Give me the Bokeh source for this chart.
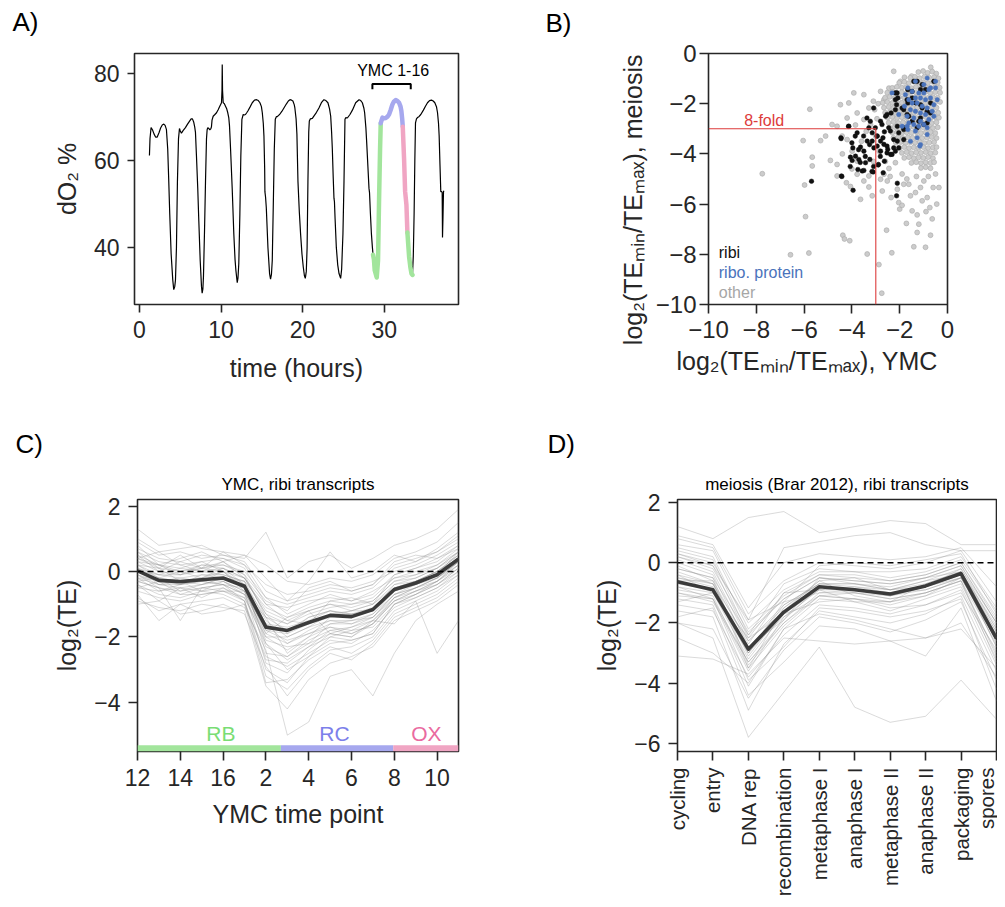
import math
import numpy as np
from bokeh.plotting import figure
from bokeh.models import Label, Span, FixedTicker, Title
from bokeh.layouts import row, column
from bokeh.embed import file_html
from bokeh.resources import INLINE

FONT = "Liberation Sans"
INK = "#262626"

# ---------------- Panel A data: dissolved O2 trace ----------------
do2_trace = [
    (1.23, 61.1), (1.3, 65.0), (1.43, 67.5), (1.6, 67.0), (1.8, 66.0), (2.0, 65.3), (2.17, 65.3),
    (2.4, 66.3), (2.6, 67.4), (2.8, 68.1), (2.99, 68.3), (3.15, 68.0), (3.31, 67.1), (3.47, 62.6),
    (3.6, 55.1), (3.72, 47.6), (3.89, 38.5), (4.09, 32.5), (4.21, 30.3), (4.33, 31.0), (4.42, 32.5),
    (4.54, 40.0), (4.66, 55.1), (4.79, 64.9), (4.91, 67.3), (5.0, 66.8), (5.15, 66.2), (5.35, 66.8),
    (5.64, 67.5), (5.9, 68.3), (6.15, 69.0), (6.34, 69.5), (6.5, 69.5), (6.65, 68.8), (6.78, 67.6),
    (6.87, 66.4), (6.99, 61.1), (7.15, 53.6), (7.28, 46.1), (7.45, 37.0), (7.61, 31.0), (7.69, 29.5),
    (7.78, 30.5), (7.85, 33.3), (7.98, 43.8), (8.1, 55.1), (8.22, 64.9), (8.3, 67.0), (8.38, 67.5),
    (8.5, 67.3), (8.63, 67.0), (8.75, 67.2), (8.83, 67.7), (8.9, 69.2), (9.04, 70.1), (9.25, 70.5),
    (9.45, 70.9), (9.65, 71.6), (9.85, 72.4), (10.06, 73.2), (10.12, 76.0), (10.15, 82.0), (10.19, 76.0),
    (10.27, 73.2), (10.4, 73.0), (10.55, 72.4), (10.7, 71.8), (10.83, 70.9), (10.95, 69.8), (11.04, 67.9),
    (11.17, 62.6), (11.37, 53.6), (11.57, 43.1), (11.72, 37.2), (11.82, 34.8), (11.99, 31.9), (12.08, 33.0),
    (12.18, 36.3), (12.31, 47.6), (12.43, 61.1), (12.56, 69.4), (12.72, 70.5), (12.85, 70.4), (13.0, 70.5),
    (13.15, 70.9), (13.29, 71.3), (13.55, 72.2), (13.83, 73.2), (14.1, 73.8), (14.36, 73.9), (14.57, 73.7),
    (14.77, 73.2), (14.95, 72.3), (15.06, 70.9), (15.18, 68.5), (15.26, 65.6), (15.35, 58.0), (15.38, 52.8),
    (15.46, 51.5), (15.55, 49.1), (15.75, 40.0), (15.95, 34.0), (16.07, 32.7), (16.18, 33.8), (16.28, 37.0),
    (16.4, 49.1), (16.53, 62.6), (16.65, 69.4), (16.78, 70.0), (16.9, 70.0), (17.05, 70.3), (17.18, 70.5),
    (17.45, 71.2), (17.71, 72.0), (18.0, 72.9), (18.25, 73.6), (18.45, 73.9), (18.65, 73.8), (18.81, 73.6),
    (18.98, 72.7), (19.05, 72.0), (19.2, 69.5), (19.3, 66.0), (19.43, 55.1), (19.6, 48.0), (19.75, 43.1),
    (19.92, 38.5), (20.08, 35.5), (20.22, 33.5), (20.33, 32.9), (20.45, 34.5), (20.55, 40.0), (20.65, 55.0),
    (20.75, 66.5), (20.82, 69.0), (20.95, 69.5), (21.19, 69.6), (21.4, 70.2), (21.7, 71.0), (22.0, 72.0),
    (22.3, 73.2), (22.61, 73.9), (22.85, 73.7), (23.1, 73.2), (23.3, 71.8), (23.44, 70.1), (23.55, 66.5),
    (23.64, 62.6), (23.75, 56.0), (23.84, 51.3), (23.9, 50.5), (23.98, 46.5), (24.13, 40.0), (24.3, 36.0),
    (24.46, 34.0), (24.66, 32.9), (24.78, 35.0), (24.94, 43.1), (25.07, 55.1), (25.19, 69.4), (25.3, 69.8),
    (25.48, 69.7), (25.8, 70.5), (26.1, 71.5), (26.5, 73.2), (26.91, 73.9), (27.12, 73.7), (27.32, 73.2),
    (27.5, 72.0), (27.6, 70.9), (27.75, 67.5), (27.85, 64.1), (28.0, 58.5), (28.13, 53.6), (28.2, 52.5),
    (28.3, 48.0), (28.43, 43.1), (28.55, 40.0), (28.63, 38.3), (28.74, 37.2), (28.83, 34.8), (29.08, 33.1),
    (29.24, 37.0), (29.37, 51.3), (29.49, 62.6), (29.57, 68.5), (29.78, 69.8), (29.95, 69.6), (30.18, 69.7),
    (30.4, 70.0), (30.59, 70.5), (30.8, 71.6), (31.0, 72.8), (31.2, 73.5), (31.41, 73.8), (31.62, 73.6),
    (31.82, 73.2), (32.0, 72.3), (32.1, 71.3), (32.2, 69.5), (32.27, 67.7), (32.43, 60.4), (32.56, 52.8),
    (32.72, 49.8), (32.84, 43.4), (33.05, 37.8), (33.2, 35.5), (33.34, 34.0), (33.46, 33.7), (33.56, 38.0),
    (33.66, 47.6), (33.75, 60.0), (33.83, 68.6), (33.95, 69.5), (34.07, 69.8), (34.25, 70.0), (34.48, 70.5),
    (34.8, 71.5), (35.05, 72.4), (35.3, 73.2), (35.55, 73.7), (35.79, 73.8), (36.0, 73.6), (36.2, 73.2),
    (36.4, 72.3), (36.53, 70.9), (36.65, 68.5), (36.73, 65.6), (36.83, 59.0), (36.93, 52.8), (37.05, 52.8),
    (37.1, 52.6), (37.14, 42.3), (37.2, 47.0), (37.26, 52.8), (37.32, 53.0),
]
do2_time = [t for t, _ in do2_trace]
do2_pct = [v for _, v in do2_trace]
ymc_phase_edges = [28.63, 29.57, 32.27, 32.84, 33.46]     # RB | RC | OX | RB
ymc_phase_names = ["RB", "RC", "OX", "RB"]
ymc_bracket = (28.55, 33.25)
ymc_bracket_label = "YMC 1-16"

PHASE_LINE = {"RB": "#a2e59c", "RC": "#a6a8ee", "OX": "#f0a5c3"}
PHASE_TEXT = {"RB": "#79dd74", "RC": "#7c80ea", "OX": "#ea6aa0"}

# ---------------- Panel B data: TE min/max scatter ----------------
other_xy = [
    (-7.75, -4.79), (-5.76, -2.22), (-5.98, -5.24), (-5.94, -6.5), (-5.8, -7.95), (-6.57, -8.02),
    (-4.38, -7.24), (-4.31, -7.39), (-4.09, -7.46), (-3.36, -7.99), (-2.87, -8.41), (-2.75, -9.55),
    (-2.33, -7.94), (-2.55, -7.04), (-1.72, -6.77), (-1.27, -7.13), (-0.92, -7.72), (-0.71, -7.24),
    (-0.64, -6.59), (-0.74, -6.14), (-1.41, -7.7), (-0.36, -5.34), (-0.6, -5.34), (-6.04, -3.47),
    (-5.66, -4.13), (-5.66, -4.48), (-5.31, -3.47), (-5.1, -3.29), (-4.9, -4.26), (-4.62, -2.9),
    (-4.48, -2.04), (-4.13, -1.97), (-3.92, -1.57), (-3.5, -1.64), (-3.29, -2.17), (-4.62, -4.88),
    (-4.62, -4.42), (-4.23, -5.15), (-4.06, -5.3), (-3.64, -5.81), (-3.29, -5.32), (-2.73, -5.48),
    (-2.52, -5.08), (-2.36, -5.74), (-2.1, -5.41), (-2.04, -5.94), (-1.83, -5.21), (-1.55, -5.67),
    (-1.34, -5.54), (-1.13, -5.34), (-0.99, -5.08), (-0.85, -5.74), (-1.06, -5.87), (-1.48, -6.27),
    (-1.27, -6.43), (-1.62, -5.21), (-2.66, -4.81), (-2.45, -4.58), (-2.18, -4.35), (-2.8, -5.01),
    (-3.29, -4.88), (-3.78, -4.81), (-3.5, -5.08), (-3.15, -5.67), (-3.78, -4.29), (-3.99, -3.89),
    (-4.2, -3.43), (-4.41, -3.29), (-4.83, -2.83), (-4.2, -2.57), (-3.78, -2.37), (-3.5, -2.63),
    (-3.22, -2.83), (-3.05, -2.24), (-2.66, -1.84), (-2.8, -1.51), (-2.45, -1.38), (-2.25, -0.71),
    (-1.97, -1.11), (-2.9, -2.0), (-3.1, -1.9), (-2.95, -2.6), (-3.0, -3.3), (-2.85, -3.9),
    (-2.6, -4.3), (-2.4, -4.9), (-1.9, -4.8), (-1.7, -5.0), (-1.3, -4.9), (-0.8, -4.9), (-0.5, -4.8),
    (-1.5, -0.9), (-1.8, -0.95), (-0.7, -0.55), (-2.0, -6.2), (-1.9, -6.05), (-0.45, -6.0),
    (-1.2, -6.8), (-0.9, -6.3), (-3.1, -4.3), (-3.4, -3.1), (-3.6, -3.5), (-4.0, -4.6),
    (-3.85, -2.85), (-4.4, -4.0),
    (-1.22, -0.74), (-1.02, -0.7), (-0.83, -0.77), (-0.64, -0.72), (-0.47, -0.8),
    (-1.56, -0.97), (-1.36, -0.93), (-1.17, -0.98), (-0.96, -0.92), (-0.77, -0.96), (-0.56, -0.94), (-0.38, -0.99),
    (-2.02, -1.17), (-1.81, -1.13), (-1.62, -1.18), (-1.41, -1.12), (-1.22, -1.16), (-1.01, -1.14),
    (-0.82, -1.18), (-0.61, -1.13), (-0.41, -1.16),
    (-2.31, -1.37), (-2.12, -1.33), (-1.91, -1.36), (-1.72, -1.34), (-1.51, -1.38), (-1.32, -1.33),
    (-1.11, -1.36), (-0.92, -1.34), (-0.71, -1.37), (-0.52, -1.33), (-0.33, -1.36),
    (-2.52, -1.56), (-2.31, -1.53), (-2.12, -1.58), (-1.92, -1.54), (-1.71, -1.56), (-1.52, -1.53),
    (-1.31, -1.57), (-1.12, -1.55), (-0.91, -1.53), (-0.72, -1.57), (-0.51, -1.54), (-0.31, -1.56),
    (-2.61, -1.76), (-2.42, -1.73), (-2.21, -1.77), (-2.02, -1.74), (-1.81, -1.76), (-1.62, -1.73),
    (-1.41, -1.77), (-1.22, -1.75), (-1.01, -1.73), (-0.82, -1.77), (-0.61, -1.74), (-0.41, -1.76),
    (-2.71, -1.96), (-2.52, -1.93), (-2.31, -1.97), (-2.12, -1.94), (-1.91, -1.96), (-1.72, -1.93),
    (-1.51, -1.97), (-1.32, -1.95), (-1.11, -1.93), (-0.92, -1.97), (-0.71, -1.94), (-0.52, -1.96), (-0.31, -1.93),
    (-2.66, -2.16), (-2.46, -2.13), (-2.26, -2.17), (-2.06, -2.14), (-1.86, -2.16), (-1.66, -2.13),
    (-1.46, -2.17), (-1.26, -2.15), (-1.06, -2.13), (-0.86, -2.17), (-0.66, -2.14), (-0.46, -2.16),
    (-2.61, -2.36), (-2.41, -2.33), (-2.21, -2.37), (-2.01, -2.34), (-1.81, -2.36), (-1.61, -2.33),
    (-1.41, -2.37), (-1.21, -2.35), (-1.01, -2.33), (-0.81, -2.37), (-0.61, -2.34), (-0.39, -2.36),
    (-2.51, -2.56), (-2.31, -2.53), (-2.11, -2.57), (-1.91, -2.54), (-1.71, -2.56), (-1.51, -2.53),
    (-1.31, -2.57), (-1.11, -2.55), (-0.91, -2.53), (-0.71, -2.57), (-0.51, -2.54), (-0.36, -2.56),
    (-2.46, -2.76), (-2.26, -2.73), (-2.06, -2.77), (-1.86, -2.74), (-1.66, -2.76), (-1.46, -2.73),
    (-1.26, -2.77), (-1.06, -2.75), (-0.86, -2.73), (-0.66, -2.77), (-0.46, -2.74),
    (-2.41, -2.96), (-2.21, -2.93), (-2.01, -2.97), (-1.81, -2.94), (-1.61, -2.96), (-1.41, -2.93),
    (-1.21, -2.97), (-1.01, -2.95), (-0.81, -2.93), (-0.61, -2.97), (-0.41, -2.94),
    (-2.31, -3.16), (-2.11, -3.13), (-1.91, -3.17), (-1.71, -3.14), (-1.51, -3.16), (-1.31, -3.13),
    (-1.11, -3.17), (-0.91, -3.15), (-0.71, -3.13), (-0.51, -3.17),
    (-2.26, -3.36), (-2.06, -3.33), (-1.86, -3.37), (-1.66, -3.34), (-1.46, -3.36), (-1.26, -3.33),
    (-1.06, -3.37), (-0.86, -3.35), (-0.66, -3.33), (-0.46, -3.37),
    (-2.16, -3.56), (-1.96, -3.53), (-1.76, -3.57), (-1.56, -3.54), (-1.36, -3.56), (-1.16, -3.53),
    (-0.96, -3.57), (-0.76, -3.55), (-0.56, -3.53),
    (-2.01, -3.76), (-1.81, -3.73), (-1.61, -3.77), (-1.41, -3.74), (-1.21, -3.76), (-1.01, -3.73),
    (-0.81, -3.77), (-0.61, -3.75), (-0.46, -3.73),
    (-1.91, -3.96), (-1.71, -3.93), (-1.51, -3.97), (-1.31, -3.94), (-1.11, -3.96), (-0.91, -3.93),
    (-0.71, -3.97), (-0.51, -3.95),
    (-1.81, -4.16), (-1.61, -4.13), (-1.41, -4.17), (-1.21, -4.14), (-1.01, -4.16), (-0.81, -4.13), (-0.61, -4.17),
    (-1.51, -4.36), (-1.31, -4.33), (-1.11, -4.37), (-0.91, -4.34), (-0.71, -4.36), (-0.56, -4.33),
    (-1.11, -4.56), (-0.91, -4.53), (-0.71, -4.57),
]
ribi_xy = [
    (-5.69, -5.09), (-4.44, -4.88), (-4.45, -3.39), (-4.13, -2.9), (-3.78, -3.16), (-3.96, -3.76),
    (-3.85, -4.09), (-3.64, -3.73), (-3.5, -3.89), (-3.71, -4.22), (-3.43, -4.35), (-3.25, -4.22),
    (-3.75, -4.62), (-3.5, -4.66), (-3.11, -4.72), (-2.89, -4.42), (-3.29, -2.96), (-3.15, -3.16),
    (-2.94, -3.29), (-2.8, -3.49), (-2.66, -3.62), (-2.5, -3.82), (-2.38, -4.02), (-2.25, -3.76),
    (-2.1, -3.49), (-2.64, -3.12), (-2.46, -2.96), (-2.8, -2.7), (-2.59, -2.5), (-2.36, -2.37),
    (-2.13, -2.04), (-2.08, -1.77), (-2.18, -1.57), (-1.83, -2.24), (-1.69, -1.84), (-1.48, -1.51),
    (-1.62, -2.5), (-1.34, -1.97), (-1.06, -2.17), (-0.85, -2.3), (-1.41, -1.11), (-1.06, -1.24),
    (-0.57, -1.11), (-1.2, -2.7), (-0.99, -2.83), (-0.71, -2.37), (-2.1, -2.9), (-1.83, -2.96),
    (-2.04, -3.16), (-2.18, -3.89), (-2.1, -5.17), (-2.13, -5.67), (-2.64, -4.29), (-3.08, -3.76),
    (-2.8, -3.89), (-4.06, -4.13), (-3.99, -4.26), (-3.36, -3.49), (-3.15, -3.49), (-2.94, -3.69),
    (-1.83, -3.43), (-1.27, -1.11), (-0.92, -1.44), (-0.71, -1.97), (-1.13, -2.04), (-1.48, -1.77),
    (-1.66, -1.97), (-1.9, -2.17), (-2.18, -1.84), (-2.11, -1.57), (-2.53, -2.43), (-2.74, -2.83),
    (-3.02, -2.96), (-3.23, -2.7), (-3.37, -2.57), (-3.09, -2.17), (-2.39, -3.09), (-2.25, -3.43),
    (-2.53, -3.69), (-2.32, -4.02), (-2.04, -3.76), (-2.7, -3.36), (-2.95, -3.29), (-3.26, -3.63),
    (-3.51, -3.29), (-3.86, -3.29), (-4.14, -2.9), (-4.46, -3.36), (-4.0, -3.56), (-3.72, -3.83),
    (-3.44, -4.1), (-3.65, -4.34), (-4.07, -4.5), (-3.16, -4.7), (-3.09, -4.5), (-2.81, -4.1),
    (-2.53, -3.96), (-1.69, -2.43), (-1.48, -2.7), (-1.13, -2.57), (-0.85, -2.77), (-1.27, -2.96),
    (-1.83, -3.03), (-1.66, -1.44), (-1.13, -1.44), (-4.42, -4.9), (-2.18, -2.24), (-3.95, -5.45),
    (-2.69, -4.75), (-2.9, -4.44), (-3.57, -4.68),
]
ribo_protein_xy = [
    (-1.34, -1.11), (-0.85, -0.98), (-0.5, -1.11), (-1.66, -1.37), (-1.48, -1.51), (-1.2, -1.57),
    (-0.99, -1.57), (-0.78, -1.44), (-1.34, -1.77), (-1.13, -1.77), (-0.92, -1.84), (-0.71, -1.77),
    (-1.48, -1.97), (-1.27, -1.97), (-1.06, -2.1), (-0.85, -2.17), (-1.55, -2.24), (-1.34, -2.3),
    (-1.13, -2.37), (-0.92, -2.43), (-0.64, -2.3), (-1.69, -2.5), (-1.41, -2.57), (-1.13, -2.7),
    (-0.78, -2.63), (-1.62, -2.77), (-1.41, -2.83), (-1.2, -2.9), (-0.99, -2.83), (-1.9, -2.9),
    (-1.66, -3.03), (-1.34, -3.09), (-1.62, -1.84), (-1.76, -1.64), (-1.27, -3.36), (-1.13, -3.63),
    (-0.85, -3.23), (-0.57, -2.04), (-0.57, -2.5), (-2.04, -2.43), (-2.32, -1.57), (-0.43, -1.84),
    (-0.99, -1.24), (-0.71, -1.37), (-1.8, -2.1), (-0.85, -2.96), (-1.55, -3.5), (-1.16, -3.69),
    (-1.69, -2.9), (-0.5, -1.37),
]
fold_threshold = -3.0   # log2(1/8): 8-fold

# ---------------- Panel C data: YMC, ribi transcripts ----------------
ymc_timepoints = [12, 13, 14, 15, 16, 1, 2, 3, 4, 5, 6, 7, 8, 9, 10, 11]
ymc_tick_points = [12, 14, 16, 2, 4, 6, 8, 10]
ymc_mean_te = [0.02, -0.27, -0.31, -0.25, -0.2, -0.45, -1.7, -1.8, -1.56, -1.34, -1.38, -1.16, -0.55, -0.35, -0.1, 0.38]
ymc_ribi_te = [
    [0.3, 0.0, -0.1, 0.0, 0.1, -0.2, -1.2, -1.5, -1.2, -1.0, -1.1, -0.9, -0.3, -0.1, 0.2, 0.6],
    [-0.3, -0.5, -0.6, -0.5, -0.4, -0.7, -2.3, -2.6, -2.1, -1.8, -1.7, -1.5, -0.9, -0.6, -0.4, 0.1],
    [0.6, 0.3, 0.2, 0.3, 0.4, 0.1, -1.0, -1.1, -0.9, -0.8, -0.9, -0.7, -0.1, 0.1, 0.3, 0.8],
    [-0.1, -0.4, -0.3, -0.4, -0.3, -0.6, -2.8, -3.1, -2.4, -1.9, -2.0, -1.6, -0.8, -0.5, -0.2, 0.3],
    [0.9, 0.5, 0.6, 0.4, 0.5, 0.3, -0.6, -0.9, -0.7, -0.5, -0.6, -0.4, 0.2, 0.4, 0.6, 1.1],
    [-0.6, -0.8, -0.9, -0.7, -0.6, -0.9, -3.2, -3.6, -2.9, -2.4, -2.3, -2.0, -1.2, -0.9, -0.6, -0.1],
    [0.2, -0.2, -0.4, -0.1, -0.1, -0.3, -1.5, -2.0, -1.7, -1.3, -1.2, -1.0, -0.5, -0.3, 0.0, 0.5],
    [0.1, -0.1, -0.2, -0.3, 0.0, -0.5, -1.9, -2.2, -1.8, -1.5, -1.6, -1.3, -0.6, -0.4, -0.1, 0.4],
    [1.3, 0.8, 0.9, 0.7, 0.6, 0.5, 0.2, -0.3, -0.4, -0.2, -0.3, -0.1, 0.4, 0.6, 0.9, 1.5],
    [-0.9, -1.1, -1.2, -1.0, -1.1, -1.2, -3.5, -4.2, -3.3, -2.8, -2.6, -2.3, -1.5, -1.2, -0.9, -0.4],
    [0.4, 0.1, 0.0, 0.2, 0.2, 0.0, -0.8, -1.3, -1.0, -0.7, -0.9, -0.6, -0.2, 0.0, 0.2, 0.7],
    [-0.2, -0.6, -0.5, -0.6, -0.5, -0.8, -2.0, -2.4, -2.0, -1.7, -1.9, -1.6, -0.9, -0.7, -0.3, 0.2],
    [0.5, 0.0, 0.3, 0.1, 0.2, -0.1, -1.4, -1.6, -1.3, -1.1, -1.0, -0.8, -0.2, -0.1, 0.1, 0.6],
    [-0.4, -0.7, -0.8, -0.6, -0.7, -1.0, -2.6, -2.9, -2.5, -2.1, -2.2, -1.8, -1.1, -0.8, -0.5, 0.0],
    [0.0, -0.3, -0.2, -0.1, -0.2, -0.4, -1.6, -1.7, -1.5, -1.2, -1.3, -1.1, -0.5, -0.4, -0.2, 0.3],
    [0.7, 0.4, 0.3, 0.5, 0.4, 0.2, -0.4, -0.7, -0.6, -0.4, -0.5, -0.3, 0.0, 0.2, 0.5, 0.9],
    [-0.5, -0.3, -0.7, -0.5, -0.6, -0.8, -2.2, -3.0, -2.6, -2.0, -1.8, -1.7, -1.0, -0.7, -0.4, 0.1],
    [0.2, -0.1, 0.1, 0.0, -0.1, -0.3, -1.1, -1.4, -1.1, -0.9, -1.0, -0.9, -0.3, -0.2, 0.1, 0.5],
    [-1.0, -0.9, -1.3, -1.2, -1.0, -1.3, -2.9, -3.8, -3.0, -2.5, -2.7, -2.2, -1.4, -1.1, -0.8, -0.3],
    [0.3, 0.2, -0.1, 0.1, 0.3, -0.2, -1.3, -1.9, -1.4, -1.2, -1.4, -1.2, -0.4, -0.2, 0.1, 0.6],
    [1.0, 0.6, 0.7, 0.8, 0.5, 0.4, 1.2, -0.2, 0.3, 0.5, 0.1, 0.4, 0.8, 1.0, 1.3, 1.9],
    [-0.7, -1.5, -1.0, -0.9, -0.8, -1.1, -2.4, -5.0, -4.6, -3.2, -3.0, -3.8, -2.5, -1.5, -1.0, -0.6],
    [0.4, 0.6, 0.2, 0.0, 0.3, -0.1, -0.9, -1.2, -0.5, -0.3, -0.6, -0.4, 0.3, 0.5, 0.4, 0.8],
    [-0.2, -0.4, -0.4, -0.2, -0.3, -0.6, -1.8, -2.1, -1.9, -1.6, -1.5, -1.4, -0.7, -0.5, -0.2, 0.2],
    [0.8, 0.2, 0.4, 0.6, 0.3, 0.5, -0.2, -0.9, -0.3, 0.6, -0.2, 0.0, 0.5, 0.3, 0.7, 1.2],
    [-0.8, -1.2, -1.0, -1.3, -1.2, -1.0, -3.4, -3.3, -2.7, -2.3, -2.5, -2.1, -1.3, -1.0, -0.7, -0.2],
    [0.1, -0.2, 0.0, -0.2, 0.1, -0.4, -1.4, -2.5, -2.0, -1.4, -1.2, -1.2, -0.6, -0.3, 0.0, 0.4],
    [-0.3, -0.2, -0.6, -0.4, -0.2, -0.5, -2.1, -2.3, -2.2, -1.6, -1.6, -1.4, -0.8, -0.5, -0.3, 0.3],
    [0.5, 0.2, 0.1, 0.3, 0.0, -0.2, -1.0, -1.5, -1.6, -0.9, -0.8, -1.0, -0.1, 0.1, 0.4, 0.7],
    [-0.1, -0.5, -1.5, -0.5, -0.4, -0.7, -1.9, -1.4, -1.2, -1.9, -2.0, -1.5, -1.6, -0.9, -2.5, -1.5],
    [0.6, 0.1, 0.5, 0.1, 0.6, 0.2, -0.8, -1.0, -0.8, -0.6, -0.7, -0.5, 0.1, 0.3, 0.6, 1.0],
    [-0.4, -0.9, -0.5, -0.8, -0.5, -0.9, -2.7, -2.8, -2.3, -2.0, -2.1, -1.9, -1.0, -0.8, -0.5, -0.1],
    [0.2, 0.1, -0.3, -0.2, 0.0, -0.6, -2.0, -2.0, -1.7, -1.5, -1.5, -1.3, -0.7, -0.4, -0.1, 0.4],
    [-0.5, -0.6, -0.4, -0.3, -0.4, -0.5, -1.6, -2.2, -1.9, -1.7, -1.8, -1.5, -0.8, -0.6, -0.3, 0.2],
    [0.1, -0.4, -0.5, -0.4, -0.2, -0.3, -2.5, -2.6, -2.2, -1.9, -1.7, -1.4, -0.7, -0.5, -0.2, 0.3],
    [-0.2, -0.2, -0.3, -0.6, -0.3, -0.7, -1.4, -1.8, -1.4, -1.2, -1.3, -1.2, -0.5, -0.3, 0.0, 0.5],
    [0.4, 0.2, 0.0, 0.1, 0.0, -0.4, -2.2, -2.7, -2.3, -1.8, -1.9, -1.6, -0.9, -0.6, -0.3, 0.1],
    [-0.3, -0.5, -0.7, -0.7, -0.6, -0.6, -1.8, -1.9, -1.6, -1.4, -1.3, -1.2, -0.6, -0.4, -0.1, 0.6],
    [0.0, -0.1, -0.1, 0.2, 0.1, -0.2, -1.3, -1.6, -1.2, -1.0, -1.2, -1.0, -0.4, -0.3, 0.0, 0.4],
    [-0.1, -0.3, -0.4, -0.3, -0.4, -0.9, -3.0, -3.4, -2.6, -2.2, -2.1, -1.9, -1.0, -0.7, -0.4, 0.0],
]
ymc_phase_bounds = [0.0, 6.7, 11.95, 15.0]     # in time-point index units: RB, RC, OX
ymc_phase_label_pos = [3.9, 9.2, 13.5]
ymc_bar_phases = ["RB", "RC", "OX"]

# ---------------- Panel D data: meiosis (Brar 2012), ribi transcripts ----------------
meiosis_stages = ["cycling", "entry", "DNA rep", "recombination", "metaphase I", "anaphase I",
                  "metaphase II", "anaphase II", "packaging", "spores"]
meiosis_mean_te = [-0.63, -0.9, -2.87, -1.64, -0.8, -0.9, -1.04, -0.77, -0.36, -2.52]
meiosis_ribi_te = [
    [-0.2, -0.5, -2.4, -1.2, -0.5, -0.6, -0.7, -0.5, -0.1, -2.0],
    [-1.0, -1.3, -3.3, -2.0, -1.1, -1.2, -1.4, -1.1, -0.7, -3.0],
    [0.3, 0.0, -2.0, -0.9, -0.3, -0.3, -0.5, -0.3, 0.1, -1.6],
    [-1.4, -1.6, -3.8, -2.4, -1.4, -1.5, -1.7, -1.4, -0.9, -3.4],
    [0.8, 0.5, -1.7, -0.6, 0.0, -0.1, -0.2, 0.0, 0.4, -1.3],
    [-0.5, -0.8, -2.9, -1.8, -0.9, -0.8, -1.0, -0.9, -0.5, -2.6],
    [-0.9, -1.1, -3.5, -1.5, -0.6, -1.1, -1.3, -0.7, -0.3, -2.8],
    [0.1, -0.3, -2.6, -1.4, -0.7, -0.7, -0.9, -0.6, -0.2, -2.2],
    [-2.0, -2.2, -4.5, -2.9, -1.8, -2.0, -2.3, -1.9, -1.3, -3.9],
    [1.2, 0.8, 1.5, 1.7, 1.0, 1.2, 1.4, 1.3, 0.6, 0.6],
    [-3.1, -3.2, -3.7, -2.5, -2.6, -2.7, -2.6, -2.5, -2.2, -3.5],
    [-2.0, -2.5, -5.8, -4.3, -2.8, -4.8, -5.3, -5.1, -3.9, -5.2],
    [-0.3, -0.7, -3.1, -1.6, -0.6, -0.5, -0.9, -0.6, -0.4, -2.4],
    [0.5, 0.2, -2.2, -1.1, -0.4, -0.4, -0.6, -0.4, 0.0, -1.9],
    [-1.2, -1.4, -4.1, -2.2, -1.2, -1.3, -1.6, -1.2, -0.8, -3.2],
    [-0.7, -0.9, -3.0, -1.3, -1.0, -1.0, -1.2, -1.0, -0.6, -2.7],
    [0.0, -0.4, -2.8, -1.9, -0.8, -0.9, -1.1, -0.8, -0.4, -2.3],
    [-1.6, -1.8, -4.9, -2.7, -1.6, -1.8, -2.0, -1.7, -1.1, -3.6],
    [0.9, 0.6, -1.5, 0.0, 0.3, 0.2, 0.1, 0.2, 0.5, -0.8],
    [-0.4, -1.0, -2.5, -1.7, -1.3, -1.2, -1.5, -1.4, -1.0, -2.9],
    [0.2, -0.1, -1.9, 0.5, 0.7, 0.9, 1.0, 0.6, 0.4, 0.4],
    [-0.8, -1.2, -3.3, -1.9, -0.5, -0.7, -0.8, -0.5, -0.3, -2.1],
    [-1.1, -1.2, -3.9, -2.8, -1.5, -1.6, -1.8, -1.6, -1.2, -4.2],
    [0.4, 0.1, -2.4, -0.7, -0.2, -0.3, -0.3, -0.2, 0.2, -1.5],
    [-2.5, -3.0, -4.0, -2.2, -1.7, -1.9, -2.2, -2.5, -2.0, -3.8],
    [-0.6, -0.6, -2.7, -1.0, -0.9, -1.3, -1.3, -1.1, -0.5, -2.5],
    [-1.8, -1.5, -4.4, -3.3, -2.1, -2.2, -2.6, -3.1, -1.5, -4.6],
    [0.6, 0.4, -1.9, -1.3, -0.1, 0.0, -0.1, 0.1, 0.3, -1.7],
    [-0.1, -0.6, -3.5, -2.1, -1.1, -1.0, -1.2, -1.0, -0.6, -3.1],
    [-1.3, -1.0, -3.0, -1.7, -0.8, -0.9, -1.0, -0.8, -0.2, -2.0],
    [-0.4, -0.7, -2.6, -1.5, -0.7, -0.8, -0.9, -0.7, -0.3, -2.3],
    [-0.8, -1.0, -3.2, -1.7, -0.9, -0.9, -1.1, -0.9, -0.5, -2.6],
    [0.2, -0.2, -2.3, -1.2, -0.5, -0.6, -0.7, -0.5, -0.1, -2.0],
    [-0.6, -0.9, -2.8, -1.6, -0.8, -1.0, -1.1, -0.8, -0.4, -2.8],
    [-0.2, -0.5, -3.4, -2.0, -1.0, -0.9, -1.0, -0.8, -0.5, -2.4],
    [-1.0, -1.2, -3.6, -1.8, -1.1, -1.2, -1.3, -1.0, -0.6, -3.3],
    [0.3, -0.1, -2.5, -1.0, -0.4, -0.5, -0.6, -0.4, 0.0, -1.8],
    [-0.5, -0.7, -3.0, -1.4, -0.7, -0.7, -0.9, -0.8, -0.3, -2.2],
]


# ---------------- helpers ----------------
def minus(v):
    return ("%g" % v).replace("-", "\u2212")


def base_fig(width, height, border, x_range, y_range, tick_size="23px"):
    l, r, t, b = border
    p = figure(width=width, height=height, x_range=x_range, y_range=y_range,
               output_backend="svg", toolbar_location=None,
               min_border_left=l, min_border_right=r, min_border_top=t, min_border_bottom=b)
    p.grid.visible = False
    p.outline_line_color = INK
    p.outline_line_width = 1.6
    p.background_fill_color = "white"
    p.border_fill_color = "white"
    for ax in p.axis:
        ax.axis_line_color = None
        ax.major_tick_line_color = INK
        ax.major_tick_line_width = 1.6
        ax.major_tick_in = 0
        ax.major_tick_out = 9
        ax.minor_tick_line_color = None
        ax.major_label_text_font = FONT
        ax.major_label_text_font_size = tick_size
        ax.major_label_text_color = INK
        ax.axis_label_text_font = FONT
        ax.axis_label_text_font_size = "25px"
        ax.axis_label_text_font_style = "normal"
        ax.axis_label_text_color = INK
    return p


def set_ticks(axis, ticks, labels=None):
    axis.ticker = FixedTicker(ticks=list(ticks))
    if labels is None:
        labels = [minus(t) for t in ticks]
    axis.major_label_overrides = {t: lab for t, lab in zip(ticks, labels)}


def note(p, x, y, text, size, color=INK, align="left", baseline="alphabetic"):
    p.add_layout(Label(x=x, y=y, x_units="data", y_units="data", text=text, text_font=FONT,
                       text_font_size="%gpx" % size, text_color=color, text_align=align,
                       text_baseline=baseline))


def set_title(p, text, size, align, offset, standoff):
    p.title.text = text
    p.title.align = align
    p.title.offset = offset
    p.title.standoff = standoff
    p.title.text_font = FONT
    p.title.text_font_size = "%gpx" % size
    p.title.text_font_style = "normal"
    p.title.text_color = "black"


def add_title(p, text, size, align, offset, standoff):
    p.add_layout(Title(text=text, align=align, offset=offset, standoff=standoff, text_font=FONT,
                       text_font_size="%gpx" % size, text_font_style="normal", text_color="black"),
                 "above")


NBSP = "\u00a0"

# ---------------- Panel A ----------------
# frame (page px): left 134, right 458, top 53, bottom 308 ; figure origin (0, 0)
pA = base_fig(500, 398, (134, 42, 53, 90), (-0.6, 39.1), (26.9, 84.5))
set_ticks(pA.xaxis[0], [0, 10, 20, 30])
set_ticks(pA.yaxis[0], [40, 60, 80])
pA.xaxis.axis_label = "time (hours)"
pA.yaxis.axis_label = "dO\u2082 %"
pA.xaxis.major_tick_out = 8
pA.yaxis.major_tick_out = 7
pA.xaxis.major_label_standoff = 8
pA.yaxis.major_label_standoff = 8
pA.xaxis.axis_label_standoff = 13
pA.yaxis.axis_label_standoff = 10
set_title(pA, "A)", 26, "left", 12 - 134, 8)
add_title(pA, " ", 1, "left", 0, 10)      # spacer between the panel letter and the frame

t_arr = np.array(do2_time)
v_arr = np.array(do2_pct)
pre = t_arr <= ymc_phase_edges[0]
post = t_arr >= ymc_phase_edges[-1]
pA.line(t_arr[pre], v_arr[pre], line_color="black", line_width=1.2)
pA.line(t_arr[post], v_arr[post], line_color="black", line_width=1.2)
for i, name in enumerate(ymc_phase_names):
    m = (t_arr >= ymc_phase_edges[i]) & (t_arr <= ymc_phase_edges[i + 1])
    pA.line(t_arr[m], v_arr[m], line_color=PHASE_LINE[name], line_width=4.5, line_cap="round",
            line_join="round")
b0, b1 = ymc_bracket
pA.line([b0, b0, b1, b1], [76.3, 77.5, 77.5, 76.3], line_color="black", line_width=2)
note(pA, (b0 + b1) / 2 + 0.2, 80.6, ymc_bracket_label, 16, color="black", align="center")

# ---------------- Panel B ----------------
# frame (page px): left 708, right 947, top 52, bottom 304 ; figure origin (500, 0)
pB = base_fig(497, 398, (208, 50, 52, 94), (-10, 0), (-10, 0), tick_size="24px")
set_ticks(pB.xaxis[0], [-10, -8, -6, -4, -2, 0])
set_ticks(pB.yaxis[0], [-10, -8, -6, -4, -2, 0])
pB.xaxis.major_label_standoff = 7
pB.yaxis.major_label_standoff = 3
pB.xaxis.axis_label = "log\u2082(TE\u2098\u1d62\u2099/TE\u2098\u2090\u2093), YMC" + NBSP * 6
pB.yaxis.axis_label = "log\u2082(TE\u2098\u1d62\u2099/TE\u2098\u2090\u2093), meiosis" + NBSP * 6
pB.xaxis.axis_label_standoff = 6
pB.yaxis.axis_label_standoff = 6
set_title(pB, "B)", 26, "left", 545 - 708, 8)
add_title(pB, " ", 1, "left", 0, 9)

pB.scatter([x for x, _ in other_xy], [y for _, y in other_xy], size=4.9,
           fill_color="#cccccc", line_color="#adadad", line_width=0.7)
pB.scatter([x for x, _ in ribi_xy], [y for _, y in ribi_xy], size=4.6,
           fill_color="#111111", line_color="#111111", line_width=0.5)
pB.scatter([x for x, _ in ribo_protein_xy], [y for _, y in ribo_protein_xy], size=4.4,
           fill_color="#4a73bb", line_color="#4a73bb", line_width=0.5)
pB.line([-10, fold_threshold, fold_threshold], [fold_threshold, fold_threshold, -10],
        line_color="#dd3b3b", line_width=1.1)
note(pB, -7.67, -2.66, "8-fold", 16, color="#dd3b3b", align="center")
note(pB, -9.57, -7.94, "ribi", 16, color="#111111")
note(pB, -9.57, -8.73, "ribo. protein", 16, color="#4a73bb")
note(pB, -9.57, -9.52, "other", 16, color="#a6a6a6")

# ---------------- Panel C ----------------
# frame (page px): left 137, right 458, top 499, bottom 753 ; figure origin (0, 398)
pC = base_fig(500, 501, (137, 42, 101, 146), (0, 15), (-5.5, 2.2))
ymc_pos = list(range(len(ymc_timepoints)))
set_ticks(pC.xaxis[0], [ymc_timepoints.index(tp) for tp in ymc_tick_points],
          [str(tp) for tp in ymc_tick_points])
set_ticks(pC.yaxis[0], [-4, -2, 0, 2])
pC.xaxis.axis_label = "YMC time point"
pC.yaxis.axis_label = "log\u2082(TE)"
pC.xaxis.major_label_standoff = 8
pC.yaxis.major_label_standoff = 8
pC.xaxis.axis_label_standoff = 11
pC.yaxis.axis_label_standoff = 10
set_title(pC, "C)", 26, "left", 15 - 137, 16)
add_title(pC, "YMC, ribi transcripts", 17, "center", -6, 12)

pC.multi_line([ymc_pos] * len(ymc_ribi_te), ymc_ribi_te, line_color="#8c8c8c", line_alpha=0.32,
              line_width=1)
pC.add_layout(Span(location=0, dimension="width", line_color="black", line_width=1.6, line_dash="6 4"))
pC.line(ymc_pos, ymc_mean_te, line_color="#3b3b3b", line_width=3.6, line_join="round")
pC.quad(left=ymc_phase_bounds[:-1], right=ymc_phase_bounds[1:], bottom=-5.5, top=-5.31,
        fill_color=[PHASE_LINE[n] for n in ymc_bar_phases], line_color=None)
for name, xpos in zip(ymc_bar_phases, ymc_phase_label_pos):
    note(pC, xpos, -4.94, name, 21, color=PHASE_TEXT[name], align="center")

# ---------------- Panel D ----------------
# frame (page px): left 677, right 996, top 497, bottom 752 ; figure origin (500, 398)
pD = base_fig(497, 501, (177, 1, 99, 147), (0, 9), (-6.27, 2.1))
stage_pos = list(range(len(meiosis_stages)))
set_ticks(pD.xaxis[0], stage_pos, meiosis_stages)
set_ticks(pD.yaxis[0], [-6, -4, -2, 0, 2])
pD.xaxis.major_label_orientation = math.pi / 2
pD.xaxis.major_label_text_font_size = "20.5px"
pD.xaxis.major_label_standoff = 7
pD.yaxis.major_label_standoff = 8
pD.yaxis.axis_label = "log\u2082(TE)"
pD.yaxis.axis_label_standoff = 10
set_title(pD, "D)", 26, "left", 547 - 677, 16)
add_title(pD, "meiosis (Brar 2012), ribi transcripts", 17, "center", 0, 12)

pD.multi_line([stage_pos] * len(meiosis_ribi_te), meiosis_ribi_te, line_color="#8c8c8c",
              line_alpha=0.32, line_width=1)
pD.add_layout(Span(location=0, dimension="width", line_color="black", line_width=1.6, line_dash="6 4"))
pD.line(stage_pos, meiosis_mean_te, line_color="#3b3b3b", line_width=3.6, line_join="round")

layout = column(row(pA, pB), row(pC, pD))
with open("out.html", "w") as f:
    f.write(file_html(layout, INLINE, title="figure"))
